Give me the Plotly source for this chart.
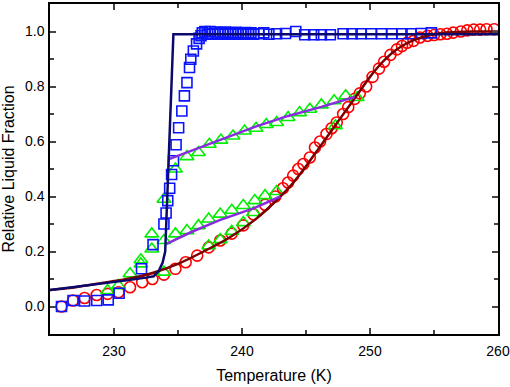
import plotly.graph_objects as go

# Blue squares
sq_T = [225.9, 226.8, 227.7, 228.65, 229.55, 230.4, 232.15, 233.05, 233.9, 234.07, 234.2, 234.35,
        234.5, 234.65, 234.85, 235.05, 235.3, 235.5, 235.7, 235.9, 236.0, 236.2, 236.45, 236.65, 236.8,
        236.9, 237.1, 237.3, 237.5, 237.7, 237.9, 238.1, 238.3, 238.5, 238.7, 238.9, 239.1, 239.3,
        239.5, 239.7, 239.9, 240.1, 240.3, 240.5, 240.7, 240.9, 241.3, 241.7, 242.1, 242.7, 243.4,
        244.2, 244.9, 245.6, 246.2, 246.9, 247.9, 248.6, 249.3, 250.1, 250.9, 251.7, 252.5, 253.2,
        254.0, 254.8]
sq_v = [0.0, 0.022, 0.02, 0.022, 0.024, 0.048, 0.137, 0.225, 0.30, 0.34, 0.385, 0.43,
        0.48, 0.53, 0.588, 0.65, 0.711, 0.766, 0.814, 0.869, 0.899, 0.929, 0.955, 0.975, 0.985,
        0.995, 1.0, 0.99, 1.0, 0.993, 0.998, 0.99, 0.996, 0.992, 0.998, 0.99, 0.995, 0.992,
        0.997, 0.99, 0.994, 0.99, 0.996, 0.992, 0.995, 0.99, 0.992, 0.995, 0.99, 0.992, 0.993,
        1.0, 0.988, 0.988, 0.988, 0.988, 0.992, 0.992, 0.992, 0.992, 0.992, 0.992, 0.992, 0.992,
        0.993, 0.995]

# Red circles
ci_T = [225.9, 226.8, 227.7, 228.65, 229.5, 230.35, 231.25, 232.2, 233.0, 233.9, 234.8, 235.6,
        236.5, 237.4, 238.3, 239.2, 240.1, 240.9, 241.8, 242.6, 243.2, 243.6, 244.0, 244.4, 244.8,
        245.3, 245.7, 246.1, 246.6, 247.0, 247.4, 247.9, 248.3, 248.8, 249.2, 249.7, 250.2, 250.7,
        251.1, 251.6, 252.1, 252.5, 252.9, 253.4, 253.9, 254.5, 255.0, 255.5, 256.0, 256.5, 257.1,
        257.6, 258.1, 258.6, 259.1, 259.7]
ci_v = [0.0, 0.022, 0.031, 0.042, 0.046, 0.052, 0.07, 0.088, 0.10, 0.116, 0.137, 0.161,
        0.185, 0.215, 0.24, 0.265, 0.295, 0.335, 0.37, 0.40, 0.43, 0.451, 0.476, 0.50, 0.518,
        0.542, 0.578, 0.60, 0.627, 0.648, 0.669, 0.70, 0.725, 0.755, 0.775, 0.80, 0.835, 0.865,
        0.89, 0.915, 0.935, 0.947, 0.959, 0.966, 0.978, 0.984, 0.987, 0.99, 0.992, 0.996, 1.0,
        1.004, 1.007, 1.007, 1.008, 1.008]

# Green triangles
tr_T = [229.5, 230.35, 231.25, 232.1, 232.1, 232.95, 232.95, 233.9, 233.9, 233.9,
        234.8, 235.7, 236.6, 237.45, 238.35, 239.3, 240.2, 241.1, 241.9, 242.7, 243.6, 244.5,
        245.3, 246.2, 247.2, 248.1, 249.0,
        234.8, 235.7, 236.6, 237.4, 238.3, 239.2, 240.1, 241.0, 241.8, 242.7,
        237.4, 238.3, 239.2, 240.1, 240.9, 247.3]
tr_v = [0.058, 0.076, 0.119, 0.155, 0.17, 0.209, 0.264, 0.125, 0.24, 0.39,
        0.50, 0.545, 0.56, 0.59, 0.605, 0.62, 0.638, 0.648, 0.662, 0.669, 0.687, 0.705,
        0.717, 0.733, 0.748, 0.766, 0.76,
        0.264, 0.276, 0.294, 0.318, 0.336, 0.35, 0.367, 0.385, 0.403, 0.418,
        0.221, 0.243, 0.273, 0.305, 0.342, 0.657]

# Navy fit line
navy_T = [225.0, 227.0, 229.0, 231.0, 232.5, 233.1, 233.5, 233.8, 234.0, 234.08, 234.64, 260.0]
navy_v = [0.06, 0.071, 0.083, 0.095, 0.105, 0.11, 0.13, 0.16, 0.2, 0.30, 0.99, 0.99]

# Maroon fit line
mar_T = [225.0, 227.0, 229.0, 231.0, 233.0, 235.0, 237.0, 239.0, 241.0, 243.0, 244.0, 245.0,
         246.0, 247.0, 248.0, 249.0, 250.0, 251.0, 252.0, 253.0, 254.0, 255.0, 256.0, 258.0, 260.0]
mar_v = [0.06, 0.07, 0.085, 0.1, 0.122, 0.155, 0.2, 0.25, 0.315, 0.4, 0.45, 0.51,
         0.575, 0.64, 0.705, 0.77, 0.835, 0.89, 0.932, 0.96, 0.978, 0.99, 0.996, 1.0, 1.0]

# Purple fit lines
pu1_T = [234.25, 236.7, 238.8, 241.0, 243.6, 246.2, 248.8]
pu1_v = [0.535, 0.578, 0.617, 0.653, 0.693, 0.726, 0.762]
pu2_T = [234.1, 236.0, 238.3, 240.9, 243.0]
pu2_v = [0.228, 0.27, 0.315, 0.357, 0.40]

fig = go.Figure()
fig.add_trace(go.Scatter(x=ci_T, y=ci_v, mode="markers",
                         marker=dict(symbol="circle-open", size=11, color="#ff0000", line=dict(width=1.6))))
fig.add_trace(go.Scatter(x=tr_T, y=tr_v, mode="markers",
                         marker=dict(symbol="triangle-up-open", size=12, color="#00ee00", line=dict(width=1.6))))
fig.add_trace(go.Scatter(x=sq_T, y=sq_v, mode="markers",
                         marker=dict(symbol="square-open", size=10, color="#0a14ff", line=dict(width=1.6))))
fig.add_trace(go.Scatter(x=mar_T, y=mar_v, mode="lines", line=dict(color="#7a0000", width=2.5, shape="spline", smoothing=0.6)))
fig.add_trace(go.Scatter(x=pu1_T, y=pu1_v, mode="lines", line=dict(color="#8a2be2", width=2.5)))
fig.add_trace(go.Scatter(x=pu2_T, y=pu2_v, mode="lines", line=dict(color="#8a2be2", width=2.5)))
fig.add_trace(go.Scatter(x=navy_T, y=navy_v, mode="lines", line=dict(color="#0a0a6e", width=2.5)))

font = "Liberation Sans, Arial, sans-serif"
fig.update_layout(
    width=510, height=387, showlegend=False,
    margin=dict(l=50, r=12, t=4, b=53),
    paper_bgcolor="white", plot_bgcolor="white",
    font=dict(family=font, size=14, color="black"),
    xaxis=dict(range=[225, 260], tickvals=[230, 240, 250, 260], ticks="inside", ticklen=6,
               tickwidth=1.5, showline=True, linewidth=1.5, linecolor="black", mirror="ticks",
               showgrid=False, zeroline=False, automargin=False, ticklabelstandoff=3,
               minor=dict(tickvals=[225, 235, 245, 255], ticks="inside", ticklen=4, tickwidth=1.5),
               title=dict(text="Temperature (K)", font=dict(size=16), standoff=12)),
    yaxis=dict(range=[-0.1, 1.1], tickvals=[0, 0.2, 0.4, 0.6, 0.8, 1.0], tickformat=".1f",
               ticks="inside", ticklen=6, tickwidth=1.5, showline=True, linewidth=1.5,
               linecolor="black", mirror="ticks", showgrid=False, zeroline=False, automargin=False,
               ticklabelstandoff=1,
               minor=dict(tickvals=[-0.1, 0.1, 0.3, 0.5, 0.7, 0.9], ticks="inside", ticklen=4, tickwidth=1.5),
               title=dict(text="Relative Liquid Fraction", font=dict(size=16), standoff=6)),
)
fig.write_html("out.html", config={"displayModeBar": False},
               post_script="document.body.style.margin='0';")
